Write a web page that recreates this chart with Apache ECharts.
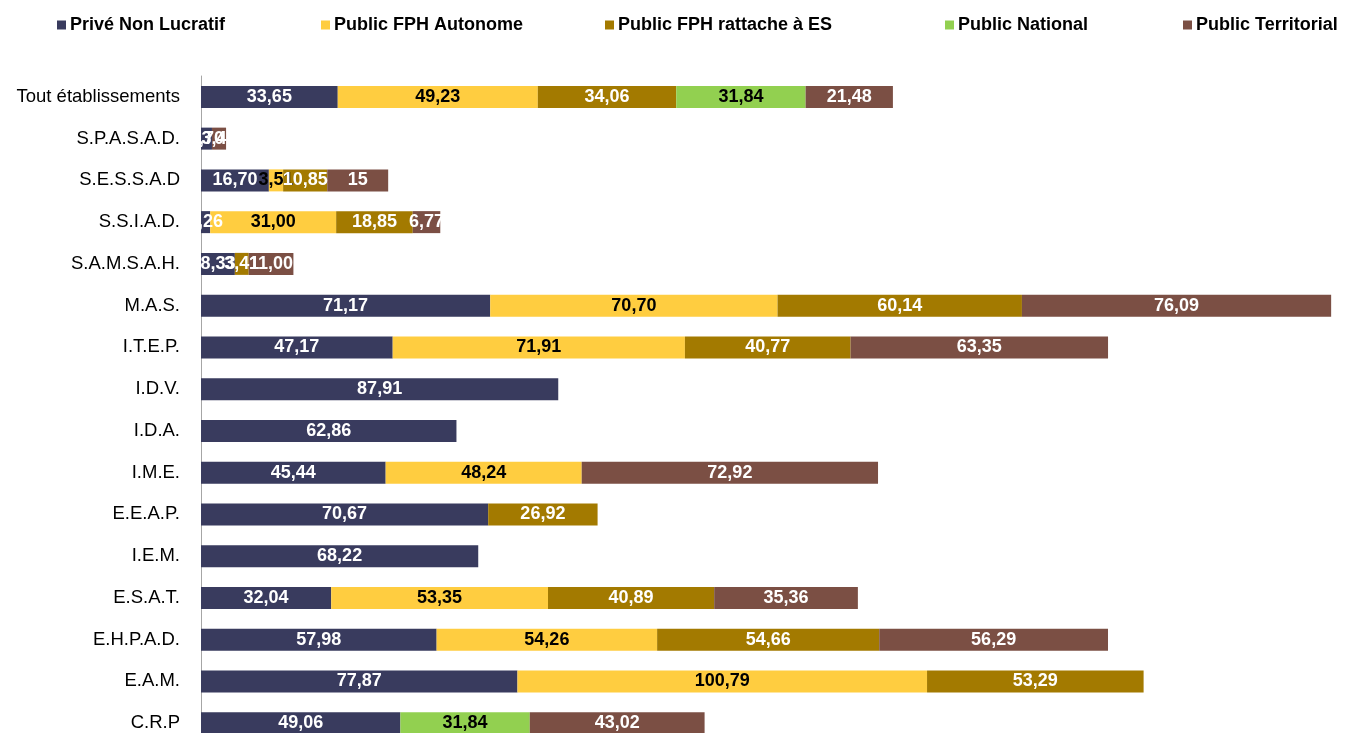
<!DOCTYPE html>
<html><head><meta charset="utf-8">
<script src="https://cdn.jsdelivr.net/npm/echarts@6/dist/echarts.min.js"></script>
<style>html,body{margin:0;padding:0;background:#fff;overflow:hidden}#c{width:1347px;height:760px}</style>
</head><body><div id="c"></div>
<script>
const categories = ["Tout établissements","S.P.A.S.A.D.","S.E.S.S.A.D","S.S.I.A.D.","S.A.M.S.A.H.","M.A.S.","I.T.E.P.","I.D.V.","I.D.A.","I.M.E.","E.E.A.P.","I.E.M.","E.S.A.T.","E.H.P.A.D.","E.A.M.","C.R.P"];
const prive       = [33.65, 2.70, 16.70, 2.26, 8.33, 71.17, 47.17, 87.91, 62.86, 45.44, 70.67, 68.22, 32.04, 57.98, 77.87, 49.06];
const fphAuto     = [49.23, null, 3.51, 31.00, null, 70.70, 71.91, null, null, 48.24, null, null, 53.35, 54.26, 100.79, null];
const fphES       = [34.06, null, 10.85, 18.85, 3.41, 60.14, 40.77, null, null, null, 26.92, null, 40.89, 54.66, 53.29, null];
const national    = [31.84, null, null, null, null, null, null, null, null, null, null, null, null, null, null, 31.84];
const territorial = [21.48, 3.47, 15, 6.77, 11.00, 76.09, 63.35, null, null, 72.92, null, null, 35.36, 56.29, null, 43.02];
const seriesNames = ["Privé Non Lucratif","Public FPH Autonome","Public FPH rattache à ES","Public National","Public Territorial"];
const colors = ["#393B5E","#FFCD40","#A37A00","#92D050","#7B4F44"];
const labelColors = ["#fff","#000","#fff","#000","#fff"];
const labelOverrides = {"Public Territorial|S.E.S.S.A.D": "15"};

const all = [prive, fphAuto, fphES, national, territorial];
const chart = echarts.init(document.getElementById('c'));
const font = 'Liberation Sans, Arial, sans-serif';
const series = all.map((arr, i) => ({
  name: seriesNames[i], type: 'bar', stack: 'total', barWidth: 22,
  itemStyle: {color: colors[i]},
  label: {show: true, position: 'inside', color: labelColors[i], fontWeight: 'bold', fontSize: 18, fontFamily: font,
    formatter: p => {
      const k = seriesNames[i] + '|' + p.name;
      if (labelOverrides[k]) return labelOverrides[k];
      return p.value.toFixed(2).replace('.', ',');
    }},
  data: arr.map(v => v == null ? '-' : v)
}));
const legendLefts = [52, 316, 600, 940, 1178];
const legends = seriesNames.map((n, i) => ({
  data: [n], left: legendLefts[i], top: 11, itemWidth: 9, itemHeight: 9, itemGap: 0, icon: 'rect',
  textStyle: {fontFamily: font, fontWeight: 'bold', fontSize: 18, color: '#000', padding: [0,0,0,-1]}
}));
chart.setOption({
  animation: false,
  legend: legends,
  grid: {left: 201, top: 76, height: 668, width: 1146},
  xAxis: {type: 'value', min: 0, max: 282, show: false},
  yAxis: {type: 'category', inverse: true, data: categories,
    axisLine: {show: true, lineStyle: {color: '#A6A6A6'}}, axisTick: {show: false},
    axisLabel: {color: '#000', fontSize: 18.5, fontFamily: font, margin: 21}},
  series
});
</script></body></html>
